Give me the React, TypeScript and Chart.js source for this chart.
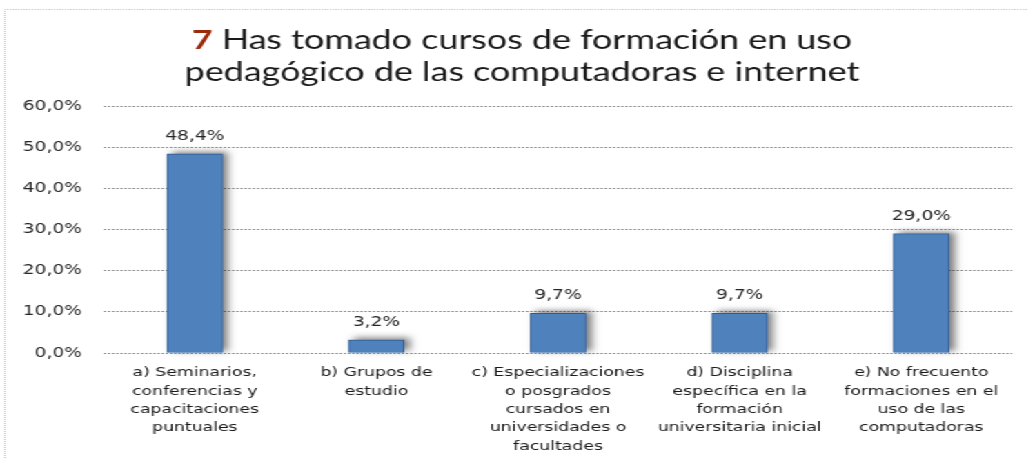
import { useEffect, useRef } from 'react';
import { Chart, registerables } from 'chart.js';

Chart.register(...registerables);

// ---- data ----
const categories: string[][] = [
  ['a) Seminarios,', 'conferencias y', 'capacitaciones', 'puntuales'],
  ['b) Grupos de', 'estudio'],
  ['c) Especializaciones', 'o posgrados', 'cursados en', 'universidades o', 'facultades'],
  ['d) Disciplina', 'específica en la', 'formación', 'universitaria inicial'],
  ['e) No frecuento', 'formaciones en el', 'uso de las', 'computadoras'],
];
const values: number[] = [48.4, 3.2, 9.7, 9.7, 29.0];
const yMin = 0;
const yMax = 60;
const yStep = 10;
const titleNumber = '7';
const titleLine1 = ' Has tomado cursos de formación en uso';
const titleLine2 = 'pedagógico de las computadoras e internet';

// ---- layout / style ----
const SX = 1.38; // horizontal stretch of the original picture
const FULL_W = 1028;
const FULL_H = 459;
const W = Math.round(FULL_W / SX);
const PLOT_LEFT = 104;
const PLOT_RIGHT = 1012;
const PLOT_TOP = 106;
const PLOT_BOTTOM = 353;
const BAR_COLOR = '#4F81BD';

const fmt = (v: number) => v.toFixed(1).replace('.', ',') + '%';

const framePlugin = {
  id: 'frame',
  beforeDraw(chart: any) {
    const ctx = chart.ctx;
    ctx.save();
    ctx.fillStyle = '#ffffff';
    ctx.fillRect(0, 0, chart.width, chart.height);
    ctx.strokeStyle = '#c4c4c4';
    ctx.lineWidth = 1;
    ctx.setLineDash([1, 1]);
    ctx.beginPath();
    ctx.moveTo(5 / SX, chart.height + 5);
    ctx.lineTo(5 / SX, 9.5);
    ctx.lineTo(chart.width + 5, 9.5);
    ctx.stroke();
    ctx.restore();
  },
};

const titlePlugin = {
  id: 'twoColorTitle',
  afterDraw(chart: any) {
    const ctx = chart.ctx;
    const cx = 522 / SX;
    ctx.save();
    ctx.font = '26px Lato';
    ctx.textBaseline = 'middle';
    ctx.textAlign = 'left';
    const w1 = ctx.measureText(titleNumber).width;
    const w2 = ctx.measureText(titleLine1).width;
    const x0 = cx - (w1 + w2) / 2;
    ctx.font = 'bold 26px Lato';
    ctx.fillStyle = '#9e2a0c';
    ctx.fillText(titleNumber, x0, 41);
    ctx.font = '26px Lato';
    ctx.fillStyle = '#1a1a1a';
    ctx.fillText(titleLine1, x0 + w1, 41);
    ctx.textAlign = 'center';
    ctx.fillText(titleLine2, cx, 73);
    ctx.restore();
  },
};

const shadowPlugin = {
  id: 'barShadow',
  beforeDatasetsDraw(chart: any) {
    const ctx = chart.ctx;
    const meta = chart.getDatasetMeta(0);
    ctx.save();
    ctx.shadowColor = 'rgba(0,0,0,0.5)';
    ctx.shadowBlur = 6;
    ctx.shadowOffsetX = 4;
    ctx.shadowOffsetY = -2;
    ctx.fillStyle = BAR_COLOR;
    meta.data.forEach((bar: any) => {
      const w = bar.width;
      ctx.fillRect(bar.x - w / 2, bar.y, w, bar.base - bar.y);
    });
    ctx.restore();
  },
};

const valueLabelPlugin = {
  id: 'valueLabels',
  afterDatasetsDraw(chart: any) {
    const ctx = chart.ctx;
    const meta = chart.getDatasetMeta(0);
    ctx.save();
    ctx.font = '13.5px "DejaVu Sans"';
    ctx.fillStyle = '#262626';
    ctx.textAlign = 'center';
    ctx.textBaseline = 'alphabetic';
    meta.data.forEach((bar: any, i: number) => {
      ctx.fillText(fmt(values[i]), bar.x, bar.y - 14);
    });
    ctx.restore();
  },
};

export default function App() {
  const ref = useRef<HTMLCanvasElement | null>(null);

  useEffect(() => {
    if (!ref.current) return;
    const chart = new Chart(ref.current, {
      type: 'bar',
      data: {
        labels: categories,
        datasets: [
          {
            data: values,
            backgroundColor: BAR_COLOR,
            borderColor: '#34598a',
            borderWidth: 1,
            barPercentage: 1,
            categoryPercentage: 56 / 181.6,
          },
        ],
      },
      options: {
        animation: false,
        responsive: false,
        devicePixelRatio: 1,
        layout: {
          padding: {
            left: 0,
            right: (FULL_W - PLOT_RIGHT) / SX,
            top: PLOT_TOP,
            bottom: 0,
          },
        },
        plugins: {
          legend: { display: false },
          title: { display: false },
          tooltip: { enabled: false },
        },
        scales: {
          x: {
            grid: { display: false },
            border: { display: false },
            ticks: {
              color: '#1a1a1a',
              font: { family: 'DejaVu Sans', size: 12.5, lineHeight: 18.3 / 12.5 },
              maxRotation: 0,
              minRotation: 0,
              autoSkip: false,
              padding: 3,
            },
            afterFit: (s: any) => {
              s.height = FULL_H - PLOT_BOTTOM;
            },
          },
          y: {
            min: yMin,
            max: yMax,
            ticks: {
              stepSize: yStep,
              padding: 22 / SX,
              color: '#262626',
              font: { family: 'DejaVu Sans', size: 13.5 },
              callback: (v: any) => fmt(Number(v)),
            },
            grid: { color: '#9a9a9a', drawTicks: false, lineWidth: 1 },
            border: { display: false, dash: [2, 1] },
            afterFit: (s: any) => {
              s.width = PLOT_LEFT / SX;
            },
          },
        },
      },
      plugins: [framePlugin, shadowPlugin, valueLabelPlugin, titlePlugin],
    });
    return () => chart.destroy();
  }, []);

  return (
    <div
      style={{
        position: 'fixed',
        left: 0,
        top: 0,
        width: W,
        height: FULL_H,
        transform: `scaleX(${SX})`,
        transformOrigin: '0 0',
        background: '#fff',
      }}
    >
      <canvas ref={ref} width={W} height={FULL_H} style={{ display: 'block' }} />
    </div>
  );
}
